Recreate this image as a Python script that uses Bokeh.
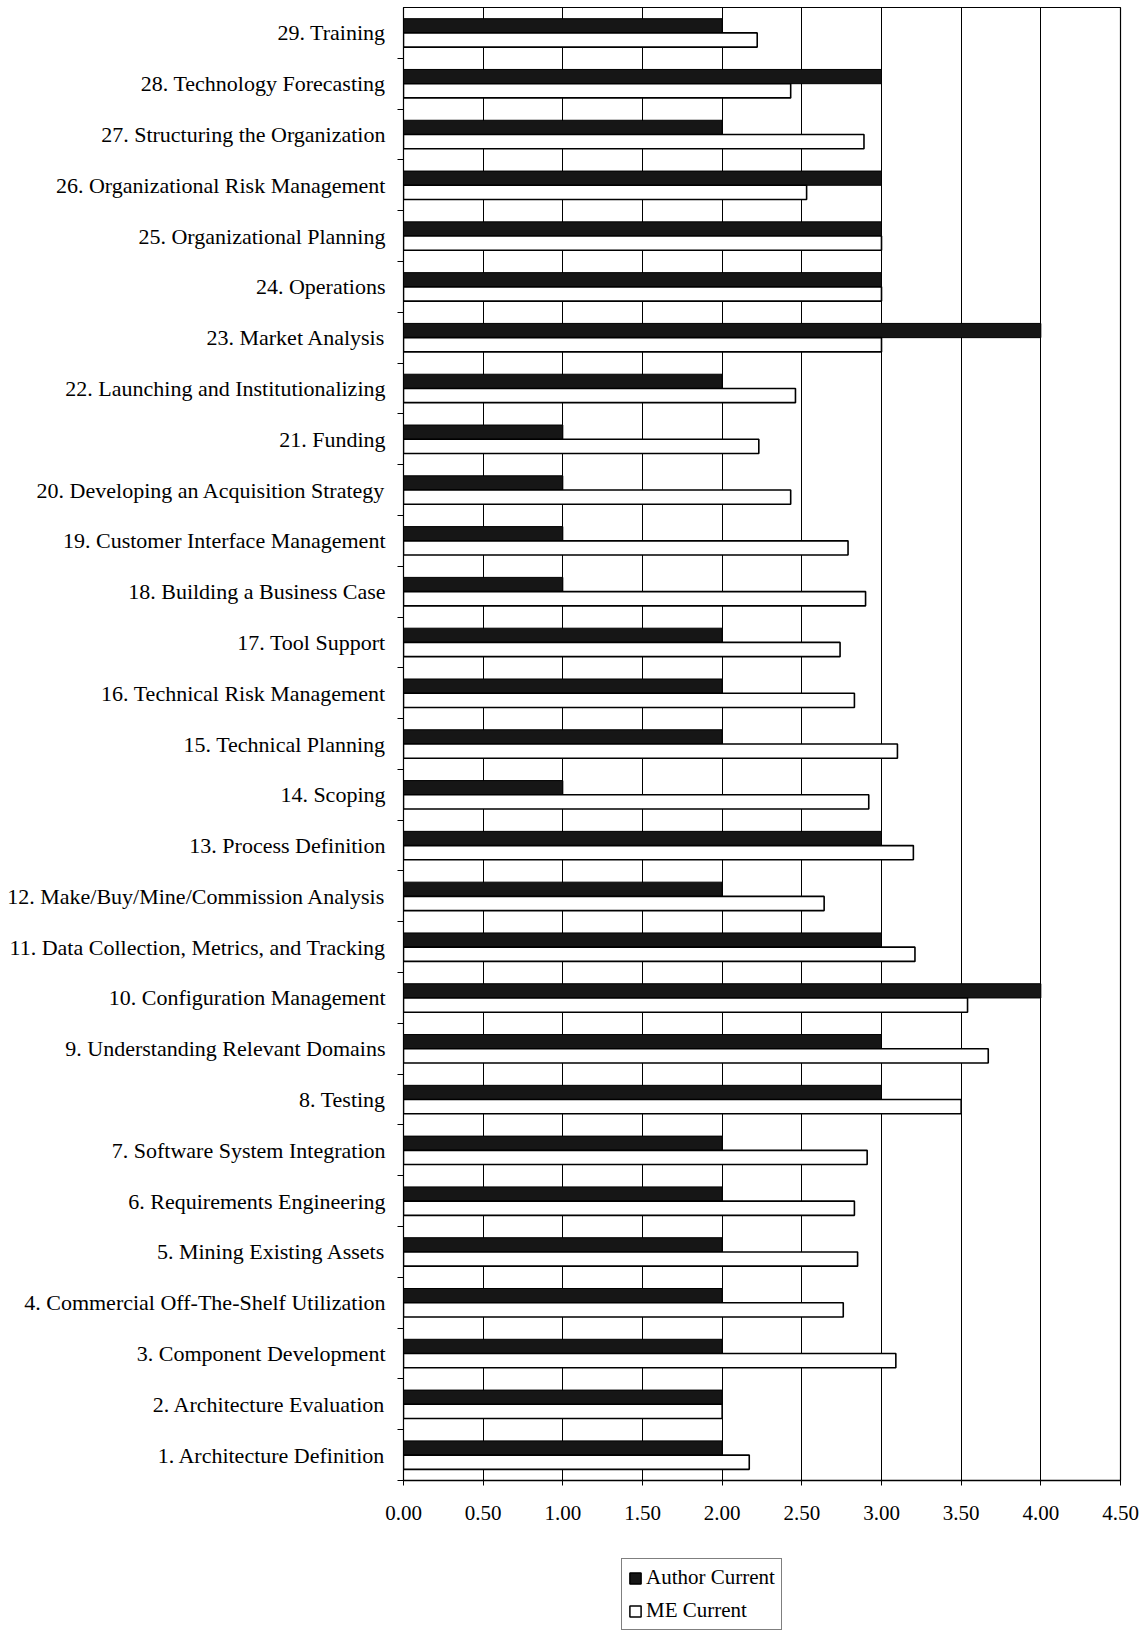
from bokeh.plotting import figure
from bokeh.layouts import column
from bokeh.models import (ColumnDataSource, FixedTicker, Range1d, Legend, LegendItem,
                          CustomJSTickFormatter)
from bokeh.transform import dodge
from bokeh.embed import file_html
from bokeh.resources import INLINE

categories = [
    "1. Architecture Definition",
    "2. Architecture Evaluation",
    "3. Component Development",
    "4. Commercial Off-The-Shelf Utilization",
    "5. Mining Existing Assets",
    "6. Requirements Engineering",
    "7. Software System Integration",
    "8. Testing",
    "9. Understanding Relevant Domains",
    "10. Configuration Management",
    "11. Data Collection, Metrics, and Tracking",
    "12. Make/Buy/Mine/Commission Analysis",
    "13. Process Definition",
    "14. Scoping",
    "15. Technical Planning",
    "16. Technical Risk Management",
    "17. Tool Support",
    "18. Building a Business Case",
    "19. Customer Interface Management",
    "20. Developing an Acquisition Strategy",
    "21. Funding",
    "22. Launching and Institutionalizing",
    "23. Market Analysis",
    "24. Operations",
    "25. Organizational Planning",
    "26. Organizational Risk Management",
    "27. Structuring the Organization",
    "28. Technology Forecasting",
    "29. Training",
]
author_current = [2, 2, 2, 2, 2, 2, 2, 3, 3, 4, 3, 2, 3, 1, 2, 2, 2, 1, 1, 1, 1, 2, 4, 3, 3, 3, 2, 3, 2]
me_current = [2.17, 2.00, 3.09, 2.76, 2.85, 2.83, 2.91, 3.50, 3.67, 3.54, 3.21, 2.64, 3.20, 2.92, 3.10,
              2.83, 2.74, 2.90, 2.79, 2.43, 2.23, 2.46, 3.00, 3.00, 3.00, 2.53, 2.89, 2.43, 2.22]
x_ticks = [0, 0.5, 1.0, 1.5, 2.0, 2.5, 3.0, 3.5, 4.0, 4.5]
series_names = ["Author Current", "ME Current"]

pos = list(range(1, len(categories) + 1))
src = ColumnDataSource(dict(pos=pos, cat=categories, author=author_current, me=me_current))

SERIF = "Liberation Serif"
AUTHOR_FILL = "#161616"

p = figure(width=1141, height=1540, output_backend="svg", toolbar_location=None,
           x_range=Range1d(0, 4.5), y_range=Range1d(0.5, len(categories) + 0.5),
           min_border_left=403, min_border_right=21, min_border_top=7, min_border_bottom=60)

p.hbar(y=dodge("pos", 0.14, range=p.y_range), right="author", left=0, height=0.28,
       source=src, fill_color=AUTHOR_FILL, line_color="black", line_width=1)
p.hbar(y=dodge("pos", -0.14, range=p.y_range), right="me", left=0, height=0.28,
       source=src, fill_color="white", line_color="black", line_width=1.6)

# axes
p.xaxis.ticker = FixedTicker(ticks=x_ticks)
p.xaxis.formatter = CustomJSTickFormatter(code="return tick.toFixed(2);")
p.xaxis.major_label_text_font = SERIF
p.xaxis.major_label_text_font_size = "21px"
p.xaxis.major_label_text_color = "black"
p.xaxis.major_label_standoff = 20
p.xaxis.major_tick_out = 5
p.xaxis.major_tick_in = 0
p.xaxis.minor_tick_line_color = None
p.xaxis.axis_line_color = "black"
p.xaxis.axis_line_width = 1.5

p.yaxis.ticker = FixedTicker(ticks=pos, minor_ticks=[i + 0.5 for i in range(0, len(categories))])
p.yaxis.major_label_overrides = {i: c for i, c in zip(pos, categories)}
p.yaxis.major_label_text_font = SERIF
p.yaxis.major_label_text_font_size = "22px"
p.yaxis.major_label_text_color = "black"
p.yaxis.major_tick_line_color = None
p.yaxis.major_label_standoff = 12
p.yaxis.minor_tick_out = 6
p.yaxis.minor_tick_in = 0
p.yaxis.minor_tick_line_color = "black"
p.yaxis.axis_line_color = "black"

p.xgrid.grid_line_color = "black"
p.xgrid.grid_line_width = 1
p.ygrid.grid_line_color = None
p.outline_line_color = "black"
p.outline_line_width = 1.2
p.background_fill_color = "white"

# legend in its own strip below the chart; its renderers are hidden, so only the
# legend swatches show
lg = figure(width=1141, height=91, output_backend="svg", toolbar_location=None,
            x_axis_location=None, y_axis_location=None,
            x_range=Range1d(-20, -10), y_range=Range1d(-200, -100),
            min_border_left=403, min_border_right=21, min_border_top=0, min_border_bottom=0)
lg.outline_line_color = None
lg.grid.grid_line_color = None
ra = lg.hbar(y="pos", right="author", left=0, height=0.28, source=src,
             fill_color=AUTHOR_FILL, line_color="black", line_width=1.5)
rm = lg.hbar(y="pos", right="me", left=0, height=0.28, source=src,
             fill_color="white", line_color="black", line_width=1.5)
ra.visible = False
rm.visible = False
legend = Legend(items=[LegendItem(label=series_names[0], renderers=[ra]),
                       LegendItem(label=series_names[1], renderers=[rm])],
                orientation="vertical", location=(218, 1))
legend.label_text_font = SERIF
legend.label_text_font_size = "21px"
legend.label_text_color = "black"
legend.glyph_width = 14
legend.glyph_height = 14
legend.label_standoff = 4
legend.spacing = 8
legend.padding = 6
legend.margin = 0
legend.border_line_color = "black"
legend.border_line_width = 1
legend.background_fill_color = "white"
legend.inactive_fill_alpha = 0
lg.add_layout(legend, "center")

open("out.html", "w").write(file_html(column(p, lg, spacing=0), INLINE))
